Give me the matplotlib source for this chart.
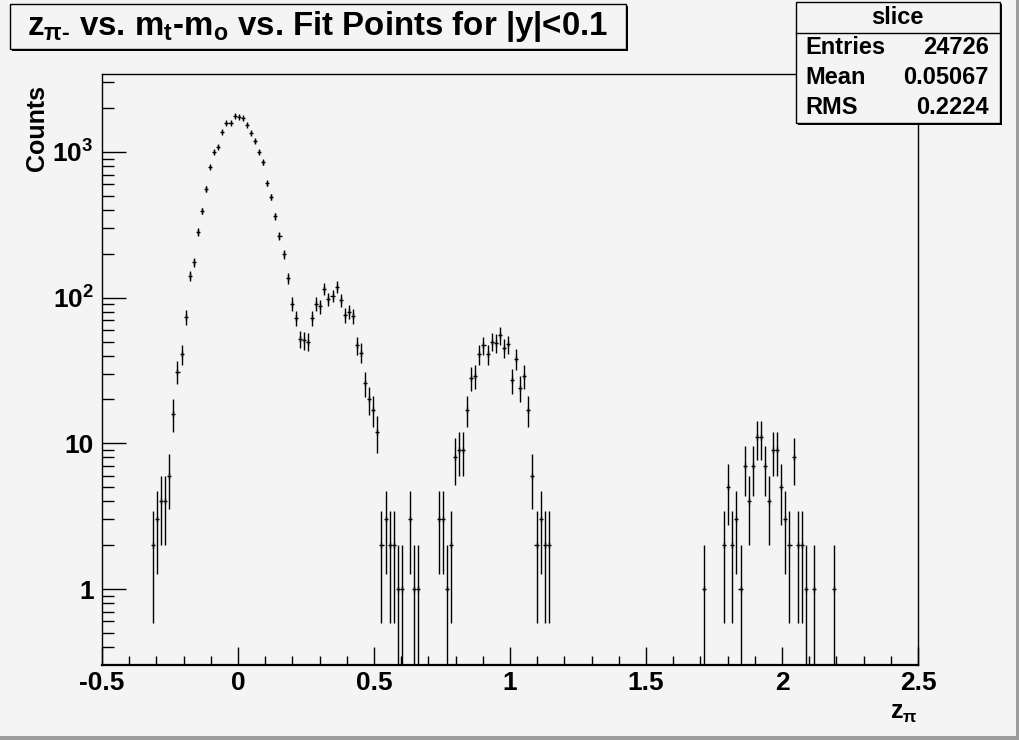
import numpy as np
import matplotlib
matplotlib.use("Agg")
import matplotlib.pyplot as plt
from matplotlib.patches import Rectangle
from matplotlib.ticker import FixedLocator, FixedFormatter, LogLocator, NullFormatter, MultipleLocator

plt.rcParams['font.family'] = ['Liberation Sans', 'DejaVu Sans']
plt.rcParams['font.weight'] = 'bold'
plt.rcParams['mathtext.fontset'] = 'custom'
plt.rcParams['mathtext.rm'] = 'Liberation Sans:bold'
plt.rcParams['mathtext.it'] = 'Liberation Sans:bold'
plt.rcParams['mathtext.bf'] = 'Liberation Sans:bold'
plt.rcParams['mathtext.sf'] = 'Liberation Sans:bold'

# ---------------- data ----------------
x_min, x_max, n_bins = -0.5, 2.5, 200
# counts per bin, keyed by first bin index of each contiguous run
seg_start = [12, 82, 147, 152, 179]
seg_counts = [
    [2, 3, 4, 4, 6, 16, 31, 41, 74, 141, 175, 283, 395, 556, 791, 994, 1076, 1377,
     1571, 1587, 1771, 1745, 1702, 1537, 1348, 1194, 994, 849, 609, 493, 361, 266,
     199, 136, 91, 72, 52, 51, 50, 72, 91, 87, 115, 98, 103, 119, 96, 76, 80, 75,
     47, 42, 26, 20, 17, 12, 2, 3, 2, 2, 1, 1, 0, 3, 1, 1],
    [3, 3, 1, 2, 8, 9, 9, 17, 28, 29, 41, 47, 41, 50, 49, 55, 45, 48, 27, 38, 24,
     29, 17, 6, 2, 3, 2, 2],
    [1],
    [2, 5, 2, 3, 1, 7, 4, 7, 11, 11, 7, 4, 9, 9, 5, 3, 2, 8, 2, 2, 1, 0, 1],
    [1],
]
title_text = r"z$_{\pi\text{-}}$ vs. m$_{\mathrm{t}}$-m$_{\mathrm{o}}$ vs. Fit Points for |y|<0.1"
stats_name = "slice"
stats_labels = ["Entries", "Mean", "RMS"]
stats_values = ["24726", "0.05067", "0.2224"]
x_ticks = [-0.5, 0, 0.5, 1, 1.5, 2, 2.5]
x_ticklabels = ["-0.5", "0", "0.5", "1", "1.5", "2", "2.5"]
y_ticks = [1, 10, 100, 1000]
y_ticklabels = ["1", "10", r"$10^{2}$", r"$10^{3}$"]

# ---------------- build histogram ----------------
edges = np.linspace(x_min, x_max, n_bins + 1)
centers = 0.5 * (edges[:-1] + edges[1:])
width = edges[1] - edges[0]
counts = np.zeros(n_bins)
for s, c in zip(seg_start, seg_counts):
    counts[s:s + len(c)] = c
mask = counts > 0
xc = centers[mask]
yc = counts[mask]
err = np.sqrt(yc)
lo = np.minimum(err, yc - 1e-4)

bg = '#f4f4f4'
fig = plt.figure(figsize=(10.2, 7.4), dpi=100, facecolor=bg)
ax = fig.add_axes([0.1, 0.1014, 0.8, 0.7986])
ax.set_facecolor(bg)

ax.errorbar(xc, yc, xerr=width / 2, yerr=[lo, err], fmt='none', ecolor='black',
            elinewidth=1.0, capsize=0)
ax.plot(xc, yc, linestyle='none', marker='|', markersize=4, markeredgewidth=1.0,
        color='black')

ax.set_yscale('log')
ax.set_xlim(x_min, x_max)
ax.set_ylim(0.301, 3430)

ax.xaxis.set_major_locator(FixedLocator(x_ticks))
ax.xaxis.set_major_formatter(FixedFormatter(x_ticklabels))
ax.xaxis.set_minor_locator(MultipleLocator(0.1))
ax.yaxis.set_major_locator(FixedLocator(y_ticks))
ax.yaxis.set_major_formatter(FixedFormatter(y_ticklabels))
ax.yaxis.set_minor_locator(LogLocator(base=10, subs=np.arange(2, 10), numticks=20))
ax.yaxis.set_minor_formatter(NullFormatter())

ax.tick_params(axis='x', which='major', direction='in', length=13, width=1,
               labelsize=19, pad=4, top=False)
ax.tick_params(axis='x', which='minor', direction='in', length=6.5, width=1, top=False)
ax.tick_params(axis='y', which='major', direction='in', length=17, width=1,
               labelsize=19, pad=6, right=False)
ax.tick_params(axis='y', which='minor', direction='in', length=8.6, width=1, right=False)
for lbl in ax.get_xticklabels() + ax.get_yticklabels():
    lbl.set_fontweight('bold')

for sp in ax.spines.values():
    sp.set_linewidth(1.0)
ax.spines['bottom'].set_linewidth(1.6)

W, H = 1020, 740
fig.text(37 / W, 1 - 128 / H, "Counts", rotation=90, ha='center', va='center',
         fontsize=18, fontweight='bold')
fig.text(918 / W, 1 - 713 / H, r"z$_{\pi}$", ha='right', va='center',
         fontsize=18, fontweight='bold')

def frect(x0, y0, x1, y1, **kw):
    r = Rectangle((x0 / W, 1 - y1 / H), (x1 - x0) / W, (y1 - y0) / H,
                  transform=fig.transFigure, **kw)
    fig.add_artist(r)
    return r

# title box
frect(12, 6, 628, 51, facecolor='black', edgecolor='none')
frect(10, 4, 626, 49, facecolor=bg, edgecolor='black', linewidth=1.0)
fig.text(318 / W, 1 - 27 / H, title_text, ha='center', va='center', fontsize=23.8,
         fontweight='bold')

# stats box
frect(798, 4, 1002, 125, facecolor='black', edgecolor='none')
frect(796, 2, 1000, 123, facecolor=bg, edgecolor='black', linewidth=1.0)
fig.add_artist(plt.Line2D([796 / W, 1000 / W], [1 - 33 / H, 1 - 33 / H],
                          transform=fig.transFigure, color='black', linewidth=1.0))
fig.text(897 / W, 1 - 18 / H, stats_name, ha='center', va='center', fontsize=17,
         fontweight='bold')
rows_y = [48, 78, 108]
for lab, val, yy in zip(stats_labels, stats_values, rows_y):
    fig.text(805 / W, 1 - yy / H, lab, ha='left', va='center', fontsize=17, fontweight='bold')
    fig.text(989 / W, 1 - yy / H, val, ha='right', va='center', fontsize=17, fontweight='bold')

# canvas border (ROOT bevel)
frect(1016, 0, 1020, 740, facecolor='#9c9c9c', edgecolor='none')
frect(0, 736, 1020, 740, facecolor='#9c9c9c', edgecolor='none')

fig.savefig("out.png", dpi=100, facecolor=bg)
